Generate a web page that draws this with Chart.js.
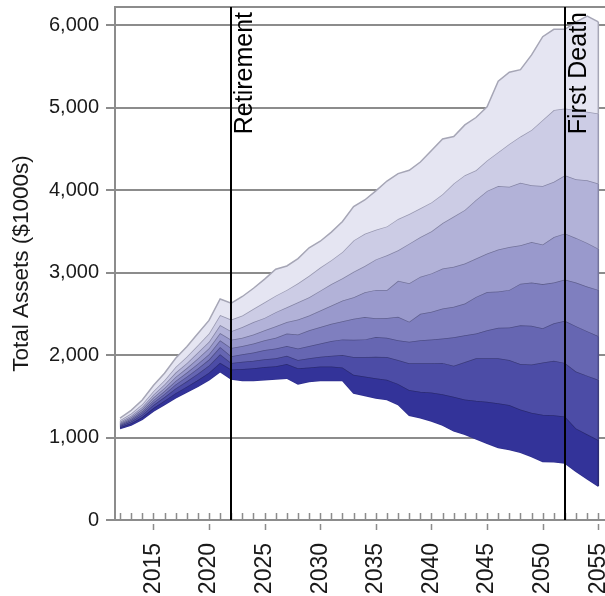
<!DOCTYPE html>
<html>
<head>
<meta charset="utf-8">
<script src="https://cdn.jsdelivr.net/npm/chart.js@4.4.1/dist/chart.umd.min.js"></script>
<style>
  html, body { margin: 0; padding: 0; background: #ffffff; overflow: hidden; }
  #wrap { width: 605px; height: 596px; position: relative; }
</style>
</head>
<body>
<div id="wrap"><canvas id="chart" width="605" height="596"></canvas></div>
<script>
// Simulated total assets ($1000s), percentile envelopes by year.
const years = [2012, 2013, 2014, 2015, 2016, 2017, 2018, 2019, 2020, 2021,
               2022, 2023, 2024, 2025, 2026, 2027, 2028, 2029, 2030, 2031,
               2032, 2033, 2034, 2035, 2036, 2037, 2038, 2039, 2040, 2041,
               2042, 2043, 2044, 2045, 2046, 2047, 2048, 2049, 2050, 2051,
               2052, 2053, 2054, 2055];

const p90 = [1235, 1330, 1455, 1630, 1780, 1960, 2100, 2260, 2420, 2680,
             2630, 2710, 2810, 2920, 3040, 3080, 3170, 3300, 3380, 3490,
             3620, 3800, 3880, 3990, 4110, 4200, 4240, 4340, 4480, 4620,
             4650, 4790, 4880, 5010, 5320, 5430, 5460, 5640, 5860, 5950,
             5950, 6040, 6110, 6040];
const p80 = [1208, 1290, 1403, 1560, 1695, 1855, 1980, 2120, 2260, 2485,
             2430, 2480, 2560, 2640, 2720, 2790, 2870, 2960, 3060, 3150,
             3250, 3390, 3470, 3520, 3560, 3650, 3710, 3780, 3850, 3950,
             4080, 4180, 4240, 4360, 4460, 4560, 4650, 4730, 4850, 4970,
             4990, 4970, 4950, 4930];
const p70 = [1190, 1265, 1370, 1518, 1643, 1787, 1902, 2030, 2160, 2363,
             2290, 2340, 2400, 2450, 2520, 2580, 2640, 2700, 2780, 2860,
             2930, 3010, 3080, 3160, 3210, 3270, 3350, 3430, 3500, 3600,
             3680, 3760, 3880, 3990, 4050, 4040, 4090, 4060, 4050, 4100,
             4180, 4130, 4120, 4080];
const p60 = [1176, 1245, 1345, 1484, 1601, 1734, 1842, 1959, 2082, 2266,
             2185, 2210, 2250, 2300, 2350, 2400, 2430, 2480, 2540, 2600,
             2660, 2700, 2760, 2790, 2790, 2900, 2870, 2950, 2990, 3050,
             3070, 3110, 3170, 3230, 3280, 3310, 3330, 3370, 3340, 3430,
             3475, 3420, 3360, 3290];
const p50 = [1164, 1227, 1321, 1453, 1563, 1686, 1787, 1895, 2010, 2178,
             2085, 2110, 2140, 2180, 2210, 2260, 2250, 2300, 2340, 2380,
             2410, 2440, 2460, 2445, 2450, 2465, 2405, 2500, 2525, 2565,
             2585, 2625, 2705, 2765, 2770, 2790, 2865, 2880, 2860, 2880,
             2915, 2880, 2830, 2790];
const p40 = [1152, 1211, 1300, 1425, 1529, 1643, 1737, 1838, 1945, 2099,
             1985, 2010, 2030, 2060, 2080, 2110, 2080, 2110, 2140, 2170,
             2190, 2185, 2190, 2220, 2210, 2180, 2160, 2180, 2190, 2200,
             2215, 2240, 2260, 2300, 2330, 2335, 2360, 2355, 2325, 2385,
             2415, 2350, 2290, 2230];
const p30 = [1140, 1193, 1276, 1394, 1491, 1595, 1682, 1774, 1873, 2011,
             1905, 1920, 1930, 1950, 1960, 1990, 1940, 1960, 1980, 1990,
             2000, 1975, 1975, 1980, 1975, 1940, 1900, 1900, 1900, 1905,
             1870, 1915, 1960, 1960, 1960, 1940, 1890, 1885, 1910, 1930,
             1905, 1800, 1750, 1700];
const p20 = [1125, 1172, 1248, 1357, 1446, 1538, 1616, 1697, 1786, 1906,
             1825, 1830, 1840, 1855, 1865, 1890, 1840, 1850, 1860, 1860,
             1850, 1760, 1740, 1720, 1700, 1650, 1575, 1555, 1545, 1525,
             1495, 1460, 1445, 1435, 1415, 1395, 1340, 1300, 1275, 1270,
             1255, 1110, 1040, 970];
const p10 = [1110, 1150, 1220, 1320, 1400, 1480, 1550, 1620, 1700, 1800,
             1710, 1690, 1690, 1700, 1710, 1720, 1650, 1680, 1690, 1690,
             1690, 1540, 1510, 1480, 1460, 1400, 1270, 1240, 1200, 1150,
             1080, 1040, 985, 930, 880, 855, 820, 770, 710, 705,
             690, 590, 500, 410];

const yTicks = [0, 1000, 2000, 3000, 4000, 5000, 6000];
const xLabelYears = [2015, 2020, 2025, 2030, 2035, 2040, 2045, 2050, 2055];
const eventYears = [2022, 2052];
const eventLabels = ['Retirement', 'First Death'];

// Envelopes from the highest percentile down; each one fills to the next.
const envelopes = [p90, p80, p70, p60, p50, p40, p30, p20, p10];
const bandFills = ['#e5e5f2', '#cccce5', '#b2b2d8', '#9999cc',
                   '#7f7fbf', '#6666b2', '#4c4ca6', '#333399'];
const edgeColors = ['#a6a6b6', '#9a9ab2', '#8686a6', '#73739a',
                    '#60608f', '#4d4d86', '#3b3b7b', '#2a2a72', '#303090'];

const FONT = "'Liberation Sans', Arial, Helvetica, sans-serif";
const GRID = '#8c8c8c';
const TEXT = '#1a1a1a';

const datasets = envelopes.map((series, i) => ({
  data: years.map((yr, j) => ({ x: yr, y: series[j] })),
  borderColor: edgeColors[i],
  borderWidth: 1.5,
  backgroundColor: i < bandFills.length ? bandFills[i] : 'transparent',
  fill: i < bandFills.length ? '+1' : false,
  pointRadius: 0,
  tension: 0
}));

// Frame top, closing edge of the bands, year tick marks, event markers.
const decorations = {
  id: 'decorations',
  afterDatasetsDraw(chart) {
    const { ctx, chartArea: a, scales: { x, y } } = chart;
    const last = years.length - 1;
    ctx.save();
    ctx.strokeStyle = GRID;
    ctx.lineWidth = 2;
    ctx.beginPath();
    ctx.moveTo(a.left - 1, a.top);
    ctx.lineTo(a.right, a.top);
    ctx.stroke();

    // closing edge of each band at the final year
    const ex = x.getPixelForValue(years[last]);
    ctx.lineWidth = 1.5;
    for (let i = 0; i < bandFills.length; i++) {
      ctx.strokeStyle = edgeColors[i];
      ctx.beginPath();
      ctx.moveTo(ex, y.getPixelForValue(envelopes[i][last]));
      ctx.lineTo(ex, y.getPixelForValue(envelopes[i + 1][last]));
      ctx.stroke();
    }

    ctx.strokeStyle = GRID;
    ctx.lineWidth = 1.5;
    ctx.beginPath();
    years.forEach(yr => {
      const px = Math.round(x.getPixelForValue(yr)) + 0.5;
      ctx.moveTo(px, a.bottom - 7);
      ctx.lineTo(px, a.bottom);
    });
    xLabelYears.forEach(yr => {
      const px = Math.round(x.getPixelForValue(yr)) + 0.5;
      ctx.moveTo(px, a.bottom + 4);
      ctx.lineTo(px, a.bottom + 10);
    });
    ctx.stroke();

    ctx.strokeStyle = '#000000';
    ctx.lineWidth = 2;
    ctx.fillStyle = '#000000';
    ctx.font = '25px ' + FONT;
    ctx.textAlign = 'right';
    ctx.textBaseline = 'alphabetic';
    eventYears.forEach((yr, i) => {
      const px = Math.round(x.getPixelForValue(yr));
      ctx.beginPath();
      ctx.moveTo(px, a.top);
      ctx.lineTo(px, a.bottom);
      ctx.stroke();
      ctx.save();
      ctx.translate(px + 21, a.top + 5);
      ctx.rotate(-Math.PI / 2);
      ctx.fillText(eventLabels[i], 0, 0);
      ctx.restore();
    });
    ctx.restore();
  }
};

new Chart(document.getElementById('chart'), {
  type: 'line',
  data: { datasets },
  options: {
    responsive: false,
    animation: false,
    events: [],
    layout: { padding: { top: 7, right: 0, bottom: 0, left: 0 } },
    plugins: { legend: { display: false }, tooltip: { enabled: false } },
    scales: {
      x: {
        type: 'linear',
        min: 2011.55,
        max: 2055.6,
        afterBuildTicks: s => { s.ticks = xLabelYears.map(v => ({ value: v })); },
        afterFit: s => { s.height = 76; s.paddingLeft = 0; s.paddingRight = 0; },
        grid: { display: true, drawOnChartArea: false, drawTicks: true,
                tickLength: 10, tickColor: 'rgba(0,0,0,0)' },
        border: { display: true, color: GRID, width: 2 },
        ticks: {
          autoSkip: false, minRotation: 90, maxRotation: 90, padding: 13,
          color: TEXT, font: { family: FONT, size: 23 },
          callback: v => String(v)
        }
      },
      y: {
        min: 0,
        max: 6220,
        afterBuildTicks: s => { s.ticks = yTicks.map(v => ({ value: v })); },
        afterFit: s => { s.width = 115; s.paddingTop = 0; s.paddingBottom = 0; },
        grid: { color: GRID, lineWidth: 2, tickLength: 9, tickColor: GRID },
        border: { display: true, color: GRID, width: 2 },
        ticks: {
          padding: 7, color: TEXT, font: { family: FONT, size: 20 },
          callback: v => v.toLocaleString('en-US')
        },
        title: {
          display: true, text: 'Total Assets ($1000s)', color: TEXT,
          font: { family: FONT, size: 22.5 }, padding: { top: 8, bottom: 0 }
        }
      }
    }
  },
  plugins: [decorations]
});
</script>
</body>
</html>
